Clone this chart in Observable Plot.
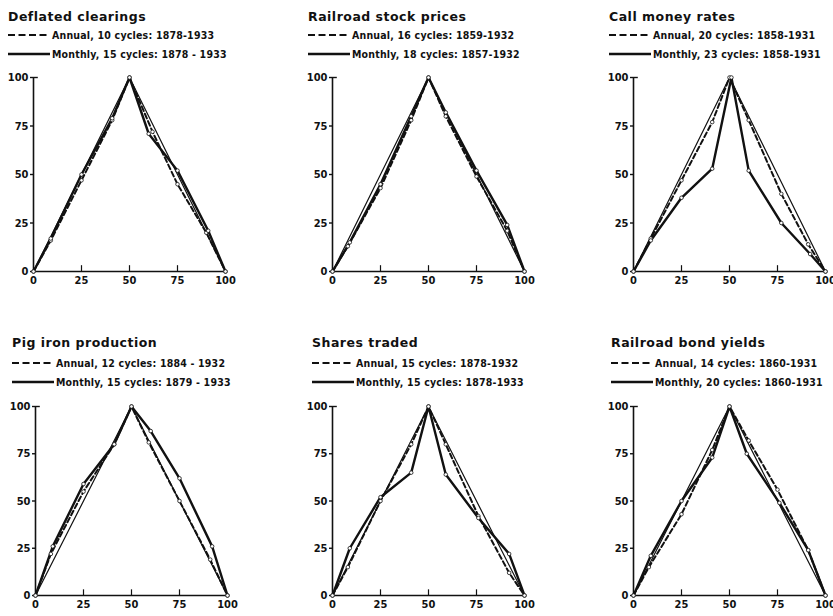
<!DOCTYPE html>
<html><head><meta charset="utf-8">
<script src="https://cdn.jsdelivr.net/npm/d3@7"></script>
<script src="https://cdn.jsdelivr.net/npm/@observablehq/plot@0.6"></script>
<style>
body{margin:0;background:#fff;}
#chart{position:relative;width:833px;height:616px;overflow:hidden;background:#fff;color:#111;font-family:"DejaVu Sans Condensed","DejaVu Sans",sans-serif;}
.title{position:absolute;font-family:"DejaVu Sans",sans-serif;font-weight:bold;font-size:12.5px;letter-spacing:0.5px;line-height:14px;white-space:nowrap;}
.leg{position:absolute;font-weight:bold;font-size:10.5px;letter-spacing:0.2px;line-height:12px;white-space:nowrap;display:flex;align-items:center;}
.leg svg{display:block;margin-right:2px;}
.plot{position:absolute;}
</style></head>
<body><div id="chart"></div>
<script>
// ---- data ----
const panelTitles = ["Deflated clearings", "Railroad stock prices", "Call money rates",
  "Pig iron production", "Shares traded", "Railroad bond yields"];
const annualLabels = ["Annual, 10 cycles: 1878-1933", "Annual, 16 cycles: 1859-1932", "Annual, 20 cycles: 1858-1931",
  "Annual, 12 cycles: 1884 - 1932", "Annual, 15 cycles: 1878-1932", "Annual, 14 cycles: 1860-1931"];
const monthlyLabels = ["Monthly, 15 cycles: 1878 - 1933", "Monthly, 18 cycles: 1857-1932", "Monthly, 23 cycles: 1858-1931",
  "Monthly, 15 cycles: 1879 - 1933", "Monthly, 15 cycles: 1878-1933", "Monthly, 20 cycles: 1860-1931"];
const axisTicks = [0, 25, 50, 75, 100];
const refTriangle = [[0, 0], [50, 100], [100, 0]];

const clearingsAnnual  = [[0,0],[9,16],[25,47],[41,78],[50,100],[62,72],[75,45],[90,20],[100,0]];
const clearingsMonthly = [[0,0],[9,17],[25,50],[41,79],[50,100],[60,71],[75,52],[91,21],[100,0]];
const rrStockAnnual    = [[0,0],[8,13],[25,43],[41,78],[50,100],[59,80],[75,49],[91,21],[100,0]];
const rrStockMonthly   = [[0,0],[9,15],[25,45],[41,80],[50,100],[59,82],[75,52],[91,24],[100,0]];
const callMoneyAnnual  = [[0,0],[9,17],[25,47],[41,77],[50,100],[60,78],[77,40],[91,14],[100,0]];
const callMoneyMonthly = [[0,0],[9,16],[25,38],[41,53],[51,100],[60,52],[77,25],[92,9],[100,0]];
const pigIronAnnual    = [[0,0],[8,22],[25,55],[41,80],[50,100],[59,81],[75,50],[91,19],[100,0]];
const pigIronMonthly   = [[0,0],[9,26],[25,59],[41,80],[50,100],[60,87],[75,62],[92,26],[100,0]];
const sharesAnnual     = [[0,0],[8,15],[25,50],[41,80],[50,100],[59,80],[76,42],[92,12],[100,0]];
const sharesMonthly    = [[0,0],[9,25],[25,52],[41,65],[50,100],[59,64],[76,41],[92,22],[100,0]];
const bondAnnual       = [[0,0],[8,15],[25,43],[41,77],[50,100],[60,82],[75,56],[91,24],[100,0]];
const bondMonthly      = [[0,0],[9,21],[25,50],[41,73],[50,100],[59,75],[76,49],[91,24],[100,0]];

const annualSeries  = [clearingsAnnual, rrStockAnnual, callMoneyAnnual, pigIronAnnual, sharesAnnual, bondAnnual];
const monthlySeries = [clearingsMonthly, rrStockMonthly, callMoneyMonthly, pigIronMonthly, sharesMonthly, bondMonthly];

// ---- layout ----
const titleX = [8, 308, 609, 12, 312, 611];
const axisX0 = [33, 332, 633, 35, 332, 633];
const titleY = [10, 336];
const legY = [35, 363];
const legGap = 18.5;
const plotTop = [77, 406];
const plotBottom = [271, 595];
const plotW = 192;
const M = {l: 28, r: 10, t: 8, b: 20};

const chart = document.getElementById("chart");
const ink = "#111";

function legendRow(dashed, label, x, y) {
  const row = document.createElement("div");
  row.className = "leg";
  row.style.left = x + "px";
  row.style.top = (y - 6) + "px";
  const ns = "http://www.w3.org/2000/svg";
  const s = document.createElementNS(ns, "svg");
  s.setAttribute("width", 42); s.setAttribute("height", 6);
  const ln = document.createElementNS(ns, "line");
  ln.setAttribute("x1", 0); ln.setAttribute("x2", 42);
  ln.setAttribute("y1", 3); ln.setAttribute("y2", 3);
  ln.setAttribute("stroke", ink);
  ln.setAttribute("stroke-width", dashed ? 2 : 2.4);
  if (dashed) ln.setAttribute("stroke-dasharray", "7,3.5");
  s.appendChild(ln);
  row.appendChild(s);
  const t = document.createElement("span");
  t.textContent = label;
  row.appendChild(t);
  chart.appendChild(row);
}

for (let i = 0; i < 6; i++) {
  const row = i < 3 ? 0 : 1;
  const tt = document.createElement("div");
  tt.className = "title";
  tt.style.left = titleX[i] + "px";
  tt.style.top = titleY[row] + "px";
  tt.textContent = panelTitles[i];
  chart.appendChild(tt);
  legendRow(true, annualLabels[i], titleX[i], legY[row]);
  legendRow(false, monthlyLabels[i], titleX[i], legY[row] + legGap);

  const plotH = plotBottom[row] - plotTop[row];
  const px = d => d[0], py = d => d[1];
  const p = Plot.plot({
    width: M.l + plotW + M.r,
    height: M.t + plotH + M.b,
    marginLeft: M.l, marginRight: M.r, marginTop: M.t, marginBottom: M.b,
    x: {domain: [0, 100]},
    y: {domain: [0, 100]},
    style: {fontFamily: '"DejaVu Sans Condensed","DejaVu Sans",sans-serif', fontWeight: "bold", fontSize: "11px", color: ink, background: "transparent", overflow: "visible"},
    marks: [
      Plot.ruleX([0], {stroke: ink, strokeWidth: 1.6}),
      Plot.ruleY([0], {stroke: ink, strokeWidth: 1.6}),
      Plot.ruleY([100], {x1: 0, x2: 2.5, stroke: ink, strokeWidth: 1.4}),
      Plot.ruleX(axisTicks.slice(1, 4), {y1: 0, y2: 3, stroke: ink, strokeWidth: 1.2}),
      Plot.axisY(axisTicks, {tickSize: 3, tickPadding: 2, stroke: ink, strokeWidth: 1.4, fill: ink}),
      Plot.axisX(axisTicks, {tickSize: 0, tickPadding: 5, fill: ink}),
      Plot.line(refTriangle, {x: px, y: py, stroke: ink, strokeWidth: 1.2}),
      Plot.line(annualSeries[i], {x: px, y: py, stroke: ink, strokeWidth: 2, strokeDasharray: "5,3"}),
      Plot.line(monthlySeries[i], {x: px, y: py, stroke: ink, strokeWidth: 2.4}),
      Plot.dot(annualSeries[i], {x: px, y: py, r: 1.8, fill: "white", stroke: ink, strokeWidth: 0.8}),
      Plot.dot(monthlySeries[i], {x: px, y: py, r: 1.8, fill: "white", stroke: ink, strokeWidth: 0.8})
    ]
  });
  p.classList.add("plot");
  p.style.left = (axisX0[i] - M.l) + "px";
  p.style.top = (plotTop[row] - M.t) + "px";
  chart.appendChild(p);
}
</script></body></html>
